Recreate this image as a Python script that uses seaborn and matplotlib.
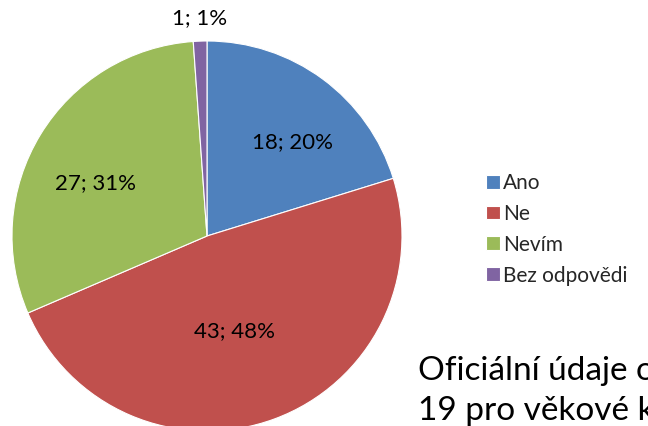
import matplotlib
matplotlib.use("Agg")
import matplotlib.pyplot as plt
import numpy as np
import seaborn as sns

# data
categories = ["Ano", "Ne", "Nevím", "Bez odpovědi"]
counts = [18, 43, 27, 1]
pct_labels = ["20%", "48%", "31%", "1%"]
colors = ["#4F81BD", "#C0504D", "#9BBB59", "#8064A2"]
note_lines = ["Oficiální údaje o", "19 pro věkové k"]

sns.set_theme(style="white")
plt.rcParams["font.family"] = ["Lato", "DejaVu Sans"]

fig = plt.figure(figsize=(6.48, 4.26), dpi=100)
fig.patch.set_facecolor("white")

# square axes so that the pie sits where it does in the reference
W, H = 648, 426
cx, cy, r = 207, 236, 195
ax = fig.add_axes([(cx - r) / W, (H - cy - r) / H, 2 * r / W, 2 * r / H])

wedges, _ = ax.pie(counts, colors=colors, startangle=90, counterclock=False,
                   radius=1, wedgeprops=dict(edgecolor="white", linewidth=0.8))
ax.set_xlim(-1, 1)
ax.set_ylim(-1, 1)
ax.set_aspect("equal")
ax.axis("off")

# data label placement (Excel "best fit" look)
label_r = [0.65, 0.51, 0.63, 1.12]
label_shift = [-6, -4, 6, 0]
for w, n, p, lr, sh in zip(wedges, counts, pct_labels, label_r, label_shift):
    ang = np.deg2rad((w.theta1 + w.theta2) / 2 + sh)
    ax.text(lr * np.cos(ang), lr * np.sin(ang), f"{n}; {p}",
            ha="center", va="center", fontsize=16, color="black", clip_on=False)

fig.legend(wedges, categories, loc="upper left", bbox_to_anchor=(486 / W, 1 - 173 / H),
           frameon=False, fontsize=15, handlelength=0.65, handleheight=0.65,
           handletextpad=0.15, labelspacing=0.52, borderaxespad=0, borderpad=0)

# text that runs off the right edge, as in the reference
for i, line in enumerate(note_lines):
    fig.text(418 / W, 1 - (380 + 40 * i) / H, line, ha="left", va="baseline",
             fontsize=24, color="black")

fig.savefig("out.png", dpi=100, facecolor="white")
